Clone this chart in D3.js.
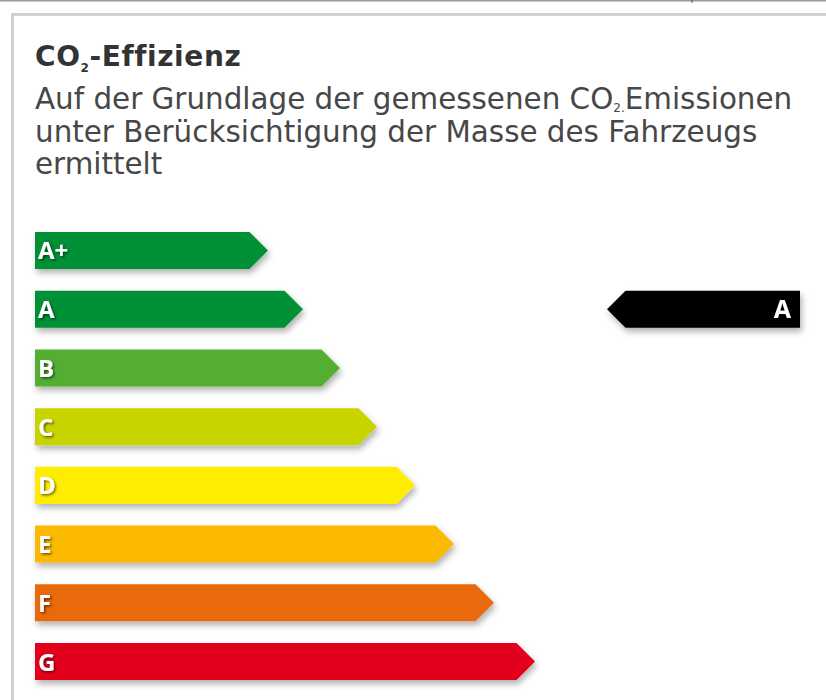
<!DOCTYPE html>
<html>
<head>
<meta charset="utf-8">
<script src="https://cdn.jsdelivr.net/npm/d3@7"></script>
<style>
  body { margin: 0; background: #fff; }
  svg { display: block; }
</style>
</head>
<body>
<div id="chart"></div>
<script>
// CO2 efficiency label classes
const classes = ["A+", "A", "B", "C", "D", "E", "F", "G"];
const classColors = ["#009036", "#009036", "#52ae32", "#c8d400", "#ffed00", "#fbba00", "#eb6909", "#e2001a"];
const barLengths = [233, 268, 305, 342, 380, 419, 459, 500];
const ratedClass = "A";

const titleMain = "CO";
const titleSub = "2";
const titleRest = "-Effizienz";
const lines = [
    ["Auf der Grundlage der gemessenen CO", "2.", "Emissionen"],
    ["unter Berücksichtigung der Masse des Fahrzeugs"],
    ["ermittelt"]
];

const width = 826, height = 700;
const left = 35;

let svg = d3.select("#chart")
    .append("svg")
    .attr("width", width)
    .attr("height", height);

let defs = svg.append("defs");
let shadow = defs.append("filter")
    .attr("id", "barShadow")
    .attr("x", "-10%").attr("y", "-30%")
    .attr("width", "130%").attr("height", "190%");
shadow.append("feDropShadow")
    .attr("dx", 2).attr("dy", 4)
    .attr("stdDeviation", 3)
    .attr("flood-color", "#000")
    .attr("flood-opacity", 0.3);

let textShadow = defs.append("filter")
    .attr("id", "textShadow")
    .attr("x", "-30%").attr("y", "-30%")
    .attr("width", "170%").attr("height", "170%");
textShadow.append("feDropShadow")
    .attr("dx", 1.5).attr("dy", 1.5)
    .attr("stdDeviation", 1)
    .attr("flood-color", "#000")
    .attr("flood-opacity", 0.55);

// frame
svg.append("line")
    .attr("x1", 0).attr("x2", width)
    .attr("y1", 0.5).attr("y2", 0.5)
    .attr("stroke", "#9a9a9a")
    .attr("stroke-width", 2);
svg.append("line")
    .attr("x1", 692).attr("x2", 692)
    .attr("y1", 0).attr("y2", 3)
    .attr("stroke", "#555");
svg.append("rect")
    .attr("x", 12.5).attr("y", 14.5)
    .attr("width", width + 20).attr("height", height + 20)
    .attr("fill", "none")
    .attr("stroke", "#cfcfcf")
    .attr("stroke-width", 3);

// header text
let title = svg.append("text")
    .attr("x", left).attr("y", 66)
    .style("font-family", "DejaVu Sans, Verdana, sans-serif")
    .style("font-weight", "bold")
    .style("font-size", "28px")
    .style("letter-spacing", "0.6px")
    .attr("fill", "#333");
title.append("tspan").text(titleMain);
title.append("tspan").attr("dy", 6).style("font-size", "12px").text(titleSub);
title.append("tspan").attr("dy", -6).text(titleRest);

lines.forEach(function(l, i) {
    let t = svg.append("text")
        .attr("x", left).attr("y", 109 + i * 32.5)
        .style("font-family", "DejaVu Sans, Verdana, sans-serif")
        .style("font-size", "29.4px")
        .attr("fill", "#474747");
    t.append("tspan").text(l[0]);
    if (l.length > 1) {
        t.append("tspan").attr("dy", 3).style("font-size", "12px").text(l[1]);
        t.append("tspan").attr("dy", -3).text(l[2]);
    }
});

// scales
let x = d3.scaleLinear()
    .domain([0, 500])
    .range([left, left + 500]);

let y = d3.scaleBand()
    .domain(classes)
    .range([232, 680])
    .paddingInner(0.37)
    .paddingOuter(0);

function arrowRight(d, i) {
    let h = y.bandwidth();
    let tip = h / 2;
    let x0 = x(0), x1 = x(barLengths[i]);
    let y0 = y(d);
    return `M${x0},${y0} L${x1 - tip},${y0} L${x1},${y0 + h / 2} L${x1 - tip},${y0 + h} L${x0},${y0 + h} Z`;
}

let bars = svg.append("g").selectAll("path").data(classes);
bars.enter()
    .append("path")
    .attr("d", arrowRight)
    .attr("fill", function(d, i) { return classColors[i]; })
    .attr("filter", "url(#barShadow)");

svg.append("g").selectAll("text").data(classes)
    .enter()
    .append("text")
    .attr("x", left + 3)
    .attr("y", function(d) { return y(d) + y.bandwidth() / 2 + 9; })
    .style("font-family", "Open Sans, sans-serif")
    .style("font-weight", "bold")
    .style("font-size", "24px")
    .attr("fill", "#fff")
    .attr("filter", "url(#textShadow)")
    .text(function(d) { return d; });

// rating marker (black arrow pointing left)
let markRight = 800, markLen = 193;
let mh = y.bandwidth();
let my = y(ratedClass);
svg.append("path")
    .attr("d", `M${markRight},${my} L${markRight - markLen + mh / 2},${my} L${markRight - markLen},${my + mh / 2} L${markRight - markLen + mh / 2},${my + mh} L${markRight},${my + mh} Z`)
    .attr("fill", "#000")
    .attr("filter", "url(#barShadow)");
svg.append("text")
    .attr("x", markRight - 9)
    .attr("y", my + mh / 2 + 9)
    .attr("text-anchor", "end")
    .style("font-family", "Open Sans, sans-serif")
    .style("font-weight", "bold")
    .style("font-size", "25px")
    .attr("fill", "#fff")
    .attr("filter", "url(#textShadow)")
    .text(ratedClass);
</script>
</body>
</html>
